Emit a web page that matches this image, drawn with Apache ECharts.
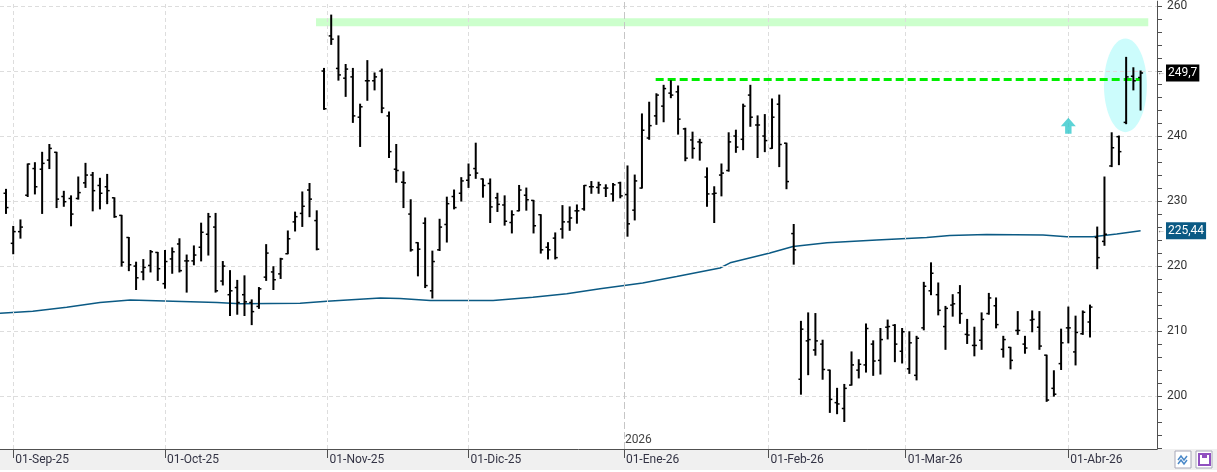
<!DOCTYPE html>
<html>
<head>
<meta charset="utf-8">
<script src="https://cdn.jsdelivr.net/npm/echarts@6/dist/echarts.min.js"></script>
<style>
html, body { margin: 0; padding: 0; background: #fff; }
#chart { width: 1217px; height: 472px; }
</style>
</head>
<body>
<div id="chart"></div>
<script>
// daily OHLC bars, index 0 = last days of August 2025
var openP = [
231.2,223.5,225.3,230.9,235.0,234.9,236.3,237.5,230.7,230.4,
230.4,232.8,234.0,232.4,232.2,230.5,227.8,224.4,220.0,219.1,
220.1,222.1,217.3,221.1,223.4,220.8,220.8,222.9,224.9,226.0,
217.7,215.6,216.7,215.6,214.4,213.8,218.3,219.1,218.8,221.9,
226.8,228.1,231.7,227.0,250.0,255.4,250.4,248.9,249.1,242.9,
248.5,248.5,250.0,243.1,234.9,232.9,228.0,223.6,226.6,216.2,
222.5,226.4,230.7,231.2,233.2,235.0,233.4,232.7,230.5,229.4,
226.7,228.5,230.9,230.1,227.9,222.9,224.3,225.7,226.8,228.5,
228.8,232.2,232.1,232.0,231.1,232.8,231.0,228.6,232.0,239.7,
243.1,244.6,246.6,246.8,241.1,239.4,239.1,233.7,231.1,234.0,
234.7,240.0,239.5,246.3,241.7,240.0,238.1,244.9,238.9,225.0,
202.6,208.5,207.1,208.0,204.0,199.0,198.1,201.7,204.0,204.8,
208.0,205.5,210.6,210.9,206.9,204.2,203.2,210.5,216.2,215.6,
210.7,214.0,215.9,209.5,207.8,208.6,212.7,213.9,207.2,207.5,
210.1,208.0,211.7,210.6,206.3,201.2,205.0,210.5,206.8,209.6,
211.4,224.4,223.8,235.4,239.9,242.1,249.2,249.0
];
var highP = [
231.8,226.1,227.1,235.7,235.9,237.5,238.7,237.5,231.5,230.8,
233.7,235.8,234.4,233.5,234.1,230.5,227.8,224.4,220.6,221.0,
222.4,222.1,222.4,222.8,224.2,221.7,223.1,226.6,228.1,228.1,
220.7,219.3,217.8,218.5,214.8,216.7,223.3,219.9,221.2,225.4,
228.3,231.4,232.7,228.5,250.4,258.6,255.4,251.0,250.4,244.9,
251.6,249.7,250.3,243.7,238.7,234.5,230.2,223.6,227.4,222.3,
227.2,230.6,231.7,233.6,235.7,238.9,233.4,233.4,231.2,230.8,
228.5,232.4,232.0,230.1,227.9,223.6,225.1,229.3,229.1,229.4,
232.4,233.0,232.9,232.5,232.7,232.9,235.4,234.0,243.4,245.2,
246.5,247.8,248.5,247.7,241.2,240.6,239.5,235.1,232.2,235.7,
240.5,240.9,244.9,247.8,243.1,243.3,245.7,246.3,238.9,226.4,
211.5,212.8,212.7,208.6,204.0,201.2,201.8,206.8,205.6,211.1,
208.5,210.4,211.7,211.0,210.4,209.9,209.2,217.5,220.5,217.4,
213.8,215.6,217.0,211.8,210.6,212.8,215.8,215.1,209.2,207.5,
213.0,209.2,213.1,213.0,206.3,203.9,210.3,213.7,212.3,213.1,
214.0,226.0,233.7,240.5,240.0,252.1,250.5,250.0
];
var lowP = [
228.1,221.9,224.3,230.7,231.1,228.1,235.0,229.0,229.2,226.2,
230.3,232.1,228.5,228.8,229.6,227.5,220.0,219.3,216.4,217.9,
219.1,217.8,216.6,218.9,219.1,216.0,220.2,220.8,221.7,216.0,
217.1,212.4,212.6,212.4,211.0,213.5,217.8,216.4,218.1,221.9,
225.4,226.1,227.6,222.5,244.1,254.1,248.6,246.1,242.1,238.4,
245.5,247.1,243.6,236.7,232.9,229.0,222.3,218.5,216.7,215.1,
222.4,223.7,228.8,230.0,232.1,233.5,230.6,226.7,228.4,226.3,
225.1,228.5,228.6,225.1,222.0,221.1,221.1,224.3,225.5,226.6,
228.6,231.2,231.2,230.7,230.0,230.5,224.6,227.1,232.0,239.5,
241.8,242.2,245.9,240.3,236.2,236.6,236.3,229.2,226.7,230.8,
234.6,237.5,237.9,241.5,236.7,237.6,238.1,235.3,231.9,220.3,
200.3,203.3,206.3,202.6,197.5,197.3,196.1,201.7,202.8,203.7,
203.2,203.4,208.8,205.3,205.1,203.5,202.5,210.2,215.6,212.5,
207.2,212.3,211.2,208.1,206.2,207.2,212.6,210.5,206.0,204.2,
209.5,206.6,209.9,207.2,199.2,200.0,204.1,208.2,204.8,209.5,
209.1,219.6,223.2,235.3,235.6,241.9,247.1,244.0
];
var closeP = [
229.0,225.3,226.0,235.7,232.2,235.8,238.1,230.3,229.9,228.0,
231.3,234.0,231.6,231.2,231.6,227.6,220.6,220.2,218.2,219.8,
222.2,219.6,220.7,222.2,219.3,220.8,221.7,225.2,227.6,216.2,
220.0,216.2,214.4,214.5,213.0,216.5,222.0,217.9,221.1,224.2,
227.6,229.2,230.3,222.6,244.2,254.9,249.4,250.3,243.1,244.5,
248.5,249.1,244.3,237.6,234.7,232.8,222.5,222.6,217.0,220.7,
226.0,229.6,229.0,233.1,234.0,234.3,232.4,229.1,229.5,226.9,
227.9,231.7,230.2,226.2,222.5,222.5,221.3,226.8,227.4,228.5,
232.4,232.2,232.5,232.0,232.5,230.8,226.5,233.1,240.9,241.6,
246.3,247.3,246.3,242.6,236.6,238.1,239.0,231.1,231.2,234.3,
239.1,238.3,244.6,242.9,241.7,239.3,242.9,238.7,233.0,222.5,
210.3,208.7,208.5,204.1,199.5,198.8,201.2,204.8,204.9,210.4,
205.4,208.7,210.7,208.0,209.9,208.2,208.9,216.9,218.9,213.2,
213.5,214.2,212.7,209.4,207.8,211.8,215.1,211.0,208.7,205.5,
210.1,207.4,211.8,207.7,199.4,200.3,208.2,210.5,209.8,212.9,
213.7,221.3,224.9,238.2,237.6,249.1,248.5,249.7
];

// moving average, read at bar positions
var maIdx = [-0.83, 3.7, 8.4, 13.0, 17.2, 23.1, 29.2, 32.4, 40.7, 44.4, 51.8, 54.5, 58.7, 67.4, 72.9, 77.6, 82.2,
             88.1, 92.8, 98.8, 100.2, 105.7, 108.9, 113.6, 120.5, 127.4, 130.6, 135.7, 143.5, 146.8, 150.4, 153.7, 157];
var maVal = [212.75, 213.05, 213.67, 214.4, 214.8, 214.6, 214.4, 214.2, 214.3, 214.6, 215.1, 215.0, 214.7, 214.7, 215.2, 215.75, 216.5,
             217.4, 218.4, 219.7, 220.5, 222.0, 223.0, 223.6, 224.0, 224.4, 224.7, 224.85, 224.8, 224.5, 224.5, 224.95, 225.44];

// month labels on the time axis (bar index where the month starts)
var monthPos = [1, 22, 44.5, 64, 85.5, 105.5, 124.5, 147];
var monthNames = ['01-Sep-25', '01-Oct-25', '01-Nov-25', '01-Dic-25', '01-Ene-26', '01-Feb-26', '01-Mar-26', '01-Abr-26'];
var yearPos = 85.5;
var yearName = '2026';

var yLabels = [200, 210, 220, 230, 240, 250, 260];

// annotations drawn on the chart
var resistBand = [42.9, 256.9, 158.06, 258.1];
var resistLine = [89.9, 156.9, 248.73];
var highlight = [154.9, 247.8, 2.97, 7.2];
var signalArrow = [147, 241.6];

var xMin = -0.83, xMax = 159.27;
var yMin = 191.87, yMax = 260.74;

var ohlc = [];
for (var i = 0; i < openP.length; i++) {
    ohlc.push([i, openP[i], highP[i], lowP[i], closeP[i]]);
}
var maData = [];
for (var j = 0; j < maIdx.length; j++) {
    maData.push([maIdx[j], maVal[j]]);
}
var yTicks = [];
for (var t = 192; t <= 260; t += 2) yTicks.push(t);

function fmt(v) {
    return String(v).replace('.', ',');
}

var lastClose = closeP[closeP.length - 1];
var lastMa = maVal[maVal.length - 1];

var gridLinesY = yLabels.map(function(v) { return { yAxis: v }; });
var gridLinesX = monthPos.map(function(v) {
    return {
        xAxis: v,
        lineStyle: v === yearPos ? { color: '#c6c6c6', type: [7, 3], width: 1 } : { color: '#dddddd', type: [4, 3], width: 1 }
    };
});

// value box on the price axis, with the little pointer in front
function axisBox(value, bg) {
    return {
        silent: true,
        symbol: 'none',
        lineStyle: { color: 'rgba(0,0,0,0)', width: 0 },
        label: {
            show: true,
            position: 'end',
            distance: 0,
            formatter: '{a|←}{b|' + fmt(value) + '}',
            rich: {
                a: { color: '#555', fontSize: 8, padding: [0, 1, 0, 0] },
                b: { color: '#fff', backgroundColor: bg, fontSize: 12, padding: [3, 2, 2, 2] }
            }
        },
        data: [{ yAxis: value }]
    };
}

var chart = echarts.init(document.getElementById('chart'));

var option = {
    animation: false,
    backgroundColor: '#ffffff',
    textStyle: { fontFamily: 'Roboto, "Liberation Sans", sans-serif' },
    grid: { left: 0, right: 60, top: 0, bottom: 23, containLabel: false },
    graphic: [
        { type: 'rect', z: -10, shape: { x: 0, y: 449, width: 1217, height: 21 }, style: { fill: '#f0f0f0' } },
        { type: 'rect', z: 10, shape: { x: 1175, y: 451, width: 16, height: 17 }, style: { fill: '#fff', stroke: '#a8a8b8', lineWidth: 1 } },
        { type: 'polyline', z: 11, shape: { points: [[1178, 460], [1181, 456], [1184, 460], [1187, 456]] }, style: { stroke: '#4a88c8', lineWidth: 1.5, fill: null } },
        { type: 'polyline', z: 11, shape: { points: [[1178, 464], [1181, 460], [1184, 464], [1187, 460]] }, style: { stroke: '#4a88c8', lineWidth: 1.5, fill: null } },
        { type: 'rect', z: 10, shape: { x: 1196, y: 451, width: 16, height: 17 }, style: { fill: '#fff', stroke: '#a8a8b8', lineWidth: 1 } },
        { type: 'rect', z: 11, shape: { x: 1199, y: 454, width: 11, height: 11 }, style: { fill: null, stroke: '#9050c0', lineWidth: 2 } },
        { type: 'rect', z: 11, shape: { x: 1202, y: 454, width: 5, height: 4 }, style: { fill: '#9050c0' } }
    ],
    xAxis: {
        type: 'value',
        min: xMin,
        max: xMax,
        axisLine: { show: true, onZero: false, lineStyle: { color: '#505050', width: 1 } },
        axisTick: { show: true, customValues: monthPos, length: 9, lineStyle: { color: '#505050' } },
        axisLabel: {
            customValues: monthPos,
            formatter: function(v) {
                var k = monthPos.indexOf(v);
                return k >= 0 ? monthNames[k] : '';
            },
            align: 'left',
            margin: 5,
            padding: [0, 0, 0, 2],
            color: '#333344',
            fontSize: 12
        },
        splitLine: { show: false }
    },
    yAxis: {
        type: 'value',
        position: 'right',
        min: yMin,
        max: yMax,
        axisLine: { show: true, onZero: false, lineStyle: { color: '#505050', width: 1 } },
        axisTick: { show: true, customValues: yTicks, length: 5, lineStyle: { color: '#505050' } },
        axisLabel: { customValues: yLabels, color: '#333333', fontSize: 12, margin: 10 },
        splitLine: { show: false }
    },
    series: [
        {
            // background: grid lines and the resistance band
            type: 'line',
            data: [],
            z: 1,
            silent: true,
            markLine: {
                silent: true,
                symbol: 'none',
                label: { show: false },
                lineStyle: { color: '#dddddd', type: [4, 3], width: 1 },
                data: gridLinesY.concat(gridLinesX)
            },
            markArea: {
                silent: true,
                itemStyle: { color: '#ccffcc' },
                data: [[{ coord: [resistBand[0], resistBand[1]] }, { coord: [resistBand[2], resistBand[3]] }]]
            },
            markPoint: {
                silent: true,
                symbol: 'rect',
                symbolSize: 0,
                label: { show: true, position: 'right', distance: 1, color: '#444', fontSize: 12, formatter: yearName },
                data: [{ coord: [yearPos, 193.2] }]
            }
        },
        {
            // highlighted zone
            type: 'custom',
            z: 2,
            silent: true,
            data: [highlight],
            renderItem: function(params, api) {
                var c = api.coord([api.value(0), api.value(1)]);
                var e = api.coord([api.value(0) + api.value(2), api.value(1) + api.value(3)]);
                return {
                    type: 'ellipse',
                    shape: { cx: c[0], cy: c[1], rx: Math.abs(e[0] - c[0]), ry: Math.abs(e[1] - c[1]) },
                    style: { fill: '#ccfcfc' }
                };
            }
        },
        {
            // resistance line
            type: 'line',
            data: [],
            z: 3,
            silent: true,
            markLine: {
                silent: true,
                symbol: 'none',
                label: { show: false },
                lineStyle: { color: '#00ee00', type: [8, 4], width: 3 },
                data: [[{ coord: [resistLine[0], resistLine[2]] }, { coord: [resistLine[1], resistLine[2]] }]]
            }
        },
        {
            name: 'MA',
            type: 'line',
            z: 4,
            clip: false,
            silent: true,
            showSymbol: false,
            data: maData,
            lineStyle: { color: '#0b5a84', width: 1.5 },
            markLine: axisBox(lastMa, '#0b5a84')
        },
        {
            name: 'Precio',
            type: 'custom',
            z: 5,
            clip: false,
            silent: true,
            data: ohlc,
            encode: { x: 0, y: [1, 2, 3, 4] },
            renderItem: function(params, api) {
                var x = api.value(0);
                var o = api.coord([x, api.value(1)]);
                var h = api.coord([x, api.value(2)]);
                var l = api.coord([x, api.value(3)]);
                var c = api.coord([x, api.value(4)]);
                var st = { stroke: '#000', lineWidth: 2 };
                var tk = { stroke: '#000', lineWidth: 1.5 };
                return {
                    type: 'group',
                    children: [
                        { type: 'line', shape: { x1: h[0], y1: h[1] - 0.5, x2: l[0], y2: l[1] + 0.5 }, style: st },
                        { type: 'line', shape: { x1: o[0] - 2.5, y1: o[1], x2: o[0], y2: o[1] }, style: tk },
                        { type: 'line', shape: { x1: c[0], y1: c[1], x2: c[0] + 2.5, y2: c[1] }, style: tk }
                    ]
                };
            },
            markLine: axisBox(lastClose, '#000000')
        },
        {
            // buy signal marker
            type: 'scatter',
            z: 6,
            silent: true,
            data: [signalArrow],
            symbol: 'path://M7,0 L14,8 L10,8 L10,15 L4,15 L4,8 L0,8 Z',
            symbolSize: [15, 16],
            itemStyle: { color: '#33c8cc' }
        }
    ]
};

chart.setOption(option);
</script>
</body>
</html>
